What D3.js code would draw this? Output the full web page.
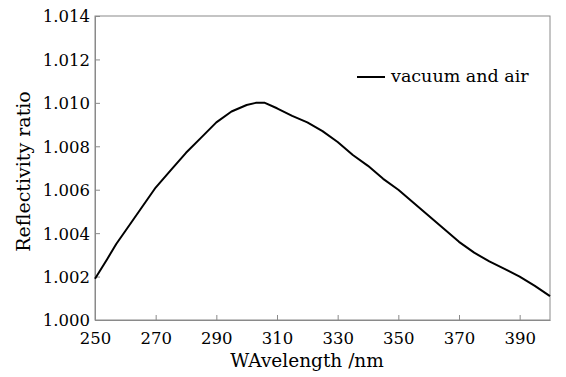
<!DOCTYPE html>
<html><head><meta charset="utf-8">
<script src="https://cdn.jsdelivr.net/npm/d3@7"></script>
<style>body{margin:0;background:#fff}svg{display:block}
svg text{font-family:"DejaVu Serif","Liberation Serif",serif;}</style>
</head><body>
<svg id="c" width="566" height="377"></svg>
<script>
const wavelength = [250,254,257,260,265,270,275,280,285,290,295,300,303,306,310,315,320,325,330,335,340,345,350,355,360,365,370,375,380,385,390,395,400];
const ratio = [1.0019,1.0028,1.0035,1.0041,1.0051,1.0061,1.0069,1.0077,1.0084,1.0091,1.0096,1.0099,1.0100,1.0100,1.00975,1.0094,1.0091,1.0087,1.0082,1.0076,1.0071,1.0065,1.0060,1.0054,1.0048,1.0042,1.0036,1.0031,1.0027,1.00235,1.0020,1.00157,1.0011];
const xTicks = [250,270,290,310,330,350,370,390];
const yTicks = [1.000,1.002,1.004,1.006,1.008,1.010,1.012,1.014];
const seriesName = "vacuum and air";
const xTitle = "WAvelength /nm";
const yTitle = "Reflectivity ratio";

const L=95,R=550,T=16,B=320;
const svg = d3.select("#c");
const x = d3.scaleLinear().domain([250,400]).range([L,R]);
const y = d3.scaleLinear().domain([1.000,1.014]).range([B,T]);
const frame = "#8a8a8a";
const fs = "16.5px";

svg.append("rect").attr("x",L).attr("y",T).attr("width",R-L).attr("height",B-T)
  .attr("fill","none").attr("stroke",frame).attr("stroke-width",1);

const xa = svg.append("g").attr("transform",`translate(0,${B})`)
  .call(d3.axisBottom(x).tickValues(xTicks).tickSizeInner(-5).tickSizeOuter(0).tickPadding(12));
const ya = svg.append("g").attr("transform",`translate(${L},0)`)
  .call(d3.axisLeft(y).tickValues(yTicks).tickFormat(d3.format(".3f")).tickSizeInner(-5).tickSizeOuter(0).tickPadding(5));
[xa,ya].forEach(g=>{
  g.attr("font-family",null);
  g.select(".domain").attr("stroke",frame);
  g.selectAll(".tick line").attr("stroke",frame);
  g.selectAll("text").attr("fill","#000").style("font-size",fs);
});
ya.selectAll("text").attr("dy","0.36em");

svg.append("path").datum(wavelength.map((w,i)=>[w,ratio[i]]))
  .attr("fill","none").attr("stroke","#000").attr("stroke-width",2).attr("stroke-linejoin","round")
  .attr("d",d3.line().x(d=>x(d[0])).y(d=>y(d[1])));

svg.append("text").attr("x",307).attr("y",367).attr("text-anchor","middle")
  .style("font-size","18.5px").attr("fill","#000").text(xTitle);
svg.append("text").attr("transform",`translate(30,171.5) rotate(-90)`).attr("text-anchor","middle")
  .style("font-size","19px").attr("fill","#000").text(yTitle);

svg.append("line").attr("x1",357).attr("x2",385).attr("y1",77).attr("y2",77).attr("stroke","#000").attr("stroke-width",2);
svg.append("text").attr("x",391).attr("y",82).style("font-size","17.5px").attr("fill","#000").text(seriesName);
</script>
</body></html>
